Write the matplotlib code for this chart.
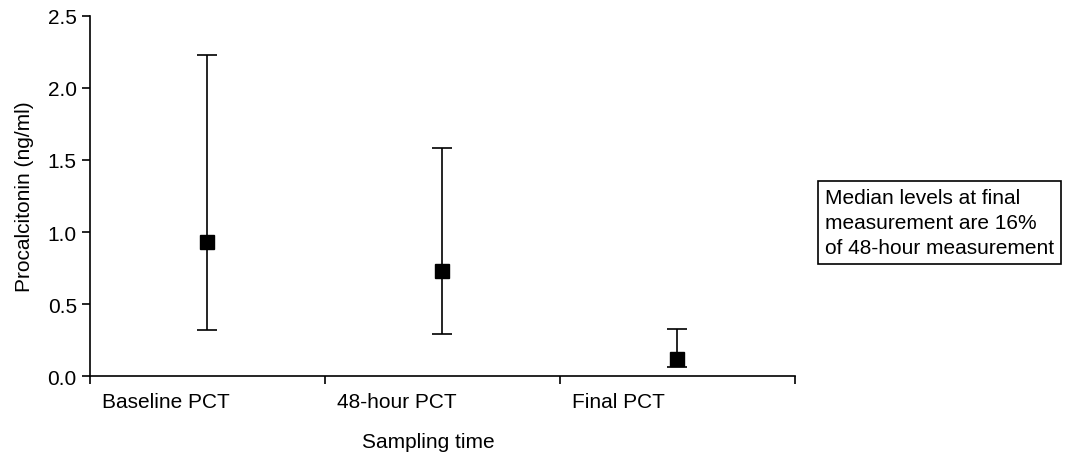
import matplotlib
matplotlib.use('Agg')
import matplotlib.pyplot as plt
import matplotlib.transforms as mtransforms
import numpy as np

categories = ['Baseline PCT', '48-hour PCT', 'Final PCT']
medians = [0.93, 0.73, 0.12]
lower = [0.32, 0.29, 0.06]
upper = [2.23, 1.58, 0.33]
yticks = [0.0, 0.5, 1.0, 1.5, 2.0, 2.5]

plt.rcParams['font.family'] = ['Liberation Sans', 'DejaVu Sans']
plt.rcParams['font.size'] = 15

fig = plt.figure(figsize=(10.67, 4.56), dpi=100)
ax = fig.add_axes([0.0843, 0.173, 0.6607, 0.79])

x = np.arange(len(categories)) + 0.5
med = np.array(medians)
err = [med - np.array(lower), np.array(upper) - med]
ax.errorbar(x, med, yerr=err, fmt='s', color='black', ms=10, ecolor='black',
            elinewidth=1.2, capsize=7.5, capthick=1.2)

ax.set_xlim(0, 3)
ax.set_ylim(0, 2.5)
ax.set_yticks(yticks)
ax.set_yticklabels(['%.1f' % v for v in yticks])
ax.set_xticks([0, 1, 2, 3])
ax.set_xticklabels([])

# category labels sit just right of each tick
trans = mtransforms.blended_transform_factory(ax.transData, ax.transAxes)
for i, name in enumerate(categories):
    ax.annotate(name, xy=(i, 0), xycoords=trans, xytext=(9, -18),
                textcoords='offset points', ha='left', va='center')

ax.spines['top'].set_visible(False)
ax.spines['right'].set_visible(False)
ax.tick_params(direction='out', length=6, width=1.2)
ax.spines['left'].set_linewidth(1.2)
ax.spines['bottom'].set_linewidth(1.2)
ax.set_ylabel('Procalcitonin (ng/ml)', labelpad=10)
fig.text(0.401, 0.03, 'Sampling time', ha='center', va='center')

fig.text(0.773, 0.51, 'Median levels at final\nmeasurement are 16%\nof 48-hour measurement',
         transform=fig.transFigure, ha='left', va='center', fontsize=15,
         linespacing=1.4,
         bbox=dict(boxstyle='square,pad=0.32', facecolor='white', edgecolor='black', lw=1.2))

fig.savefig('out.png', dpi=100)
